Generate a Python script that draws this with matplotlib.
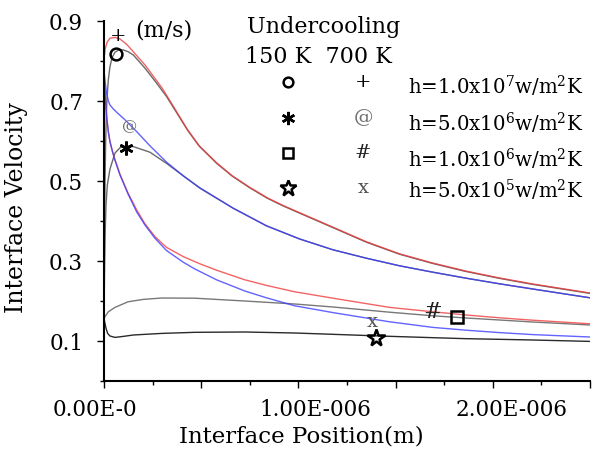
import matplotlib
matplotlib.use('Agg')
import matplotlib.pyplot as plt
import matplotlib.transforms as mtransforms

plt.rcParams['font.family'] = 'DejaVu Serif'
plt.rcParams['mathtext.fontset'] = 'dejavuserif'

# positions in micrometres, velocities in m/s
# 700 K, h=1.0e7  (red)
x_a = [0, 0.007, 0.017, 0.031, 0.057, 0.082, 0.116, 0.151, 0.211, 0.298, 0.34, 0.38, 0.43, 0.49,
       0.58, 0.66, 0.75, 0.84, 0.92, 1.0, 1.18, 1.35, 1.52, 1.69, 1.86, 2.03, 2.2, 2.5]
v_a = [0.807, 0.832, 0.848, 0.857, 0.859, 0.855, 0.842, 0.823, 0.79, 0.733, 0.70, 0.668, 0.628,
       0.588, 0.545, 0.513, 0.484, 0.458, 0.439, 0.422, 0.384, 0.348, 0.318, 0.295, 0.275,
       0.258, 0.243, 0.22]
# 150 K, h=1.0e7  (gray)
x_b = [0, 0.0017, 0.0034, 0.0051, 0.0086, 0.012, 0.0154, 0.0223, 0.0308, 0.0411, 0.0565, 0.0736,
       0.0976, 0.125, 0.151, 0.211, 0.27, 0.322, 0.38, 0.43, 0.49, 0.58, 0.66, 0.75, 0.84, 0.92,
       1.0, 1.18, 1.35, 1.52, 1.69, 1.86, 2.03, 2.2, 2.5]
v_b = [0.155, 0.282, 0.398, 0.498, 0.598, 0.665, 0.707, 0.753, 0.786, 0.808, 0.822, 0.827,
       0.828, 0.823, 0.815, 0.782, 0.745, 0.711, 0.666, 0.627, 0.587, 0.544, 0.512, 0.483,
       0.457, 0.438, 0.421, 0.383, 0.347, 0.317, 0.294, 0.274, 0.257, 0.242, 0.219]
# 700 K, h=5.0e6  (blue)
x_c = [0, 0.0068, 0.0137, 0.0223, 0.0308, 0.0479, 0.0651, 0.1079, 0.1592, 0.2363, 0.3219, 0.4075,
       0.4932, 0.6644, 0.8356, 1.0068, 1.1781, 1.3493, 1.5205, 1.6918, 1.863, 2.0342, 2.2055, 2.5]
v_c = [0.775, 0.744, 0.719, 0.7, 0.69, 0.68, 0.672, 0.653, 0.628, 0.588, 0.547, 0.513,
       0.483, 0.432, 0.388, 0.355, 0.328, 0.307, 0.288, 0.272, 0.257, 0.243, 0.23, 0.208]
# 150 K, h=5.0e6  (gray)
x_d = [0, 0.0017, 0.0034, 0.0051, 0.0103, 0.0171, 0.0308, 0.0565, 0.0822, 0.1164, 0.1507, 0.2363,
       0.3219, 0.4075, 0.4932, 0.6644, 0.8356, 1.0068, 1.1781, 1.3493, 1.5205, 1.6918, 1.863,
       2.0342, 2.2055, 2.5]
v_d = [0.155, 0.232, 0.298, 0.353, 0.44, 0.49, 0.53, 0.57, 0.583, 0.588, 0.586, 0.572,
       0.544, 0.513, 0.482, 0.432, 0.388, 0.355, 0.328, 0.307, 0.288, 0.272, 0.257,
       0.243, 0.23, 0.208]
# 700 K, h=1.0e6  (red)
x_e = [0, 0.0051, 0.0103, 0.0154, 0.0223, 0.0308, 0.0445, 0.0565, 0.0822, 0.1233, 0.1678, 0.2106,
       0.262, 0.3219, 0.4075, 0.4932, 0.5788, 0.7243, 0.8356, 0.9812, 1.1781, 1.4692, 1.6918,
       1.863, 2.0342, 2.2055, 2.5]
v_e = [0.773, 0.723, 0.682, 0.653, 0.623, 0.598, 0.572, 0.553, 0.517, 0.47, 0.428, 0.393,
       0.361, 0.334, 0.311, 0.293, 0.277, 0.253, 0.239, 0.223, 0.207, 0.184, 0.173,
       0.165, 0.158, 0.152, 0.143]
# 700 K, h=5.0e5  (blue)
x_f = [0, 0.0051, 0.0103, 0.0154, 0.0223, 0.0308, 0.0445, 0.0565, 0.0822, 0.1233, 0.1678, 0.2106,
       0.262, 0.3219, 0.4075, 0.4675, 0.5788, 0.7243, 0.8356, 0.9812, 1.1781, 1.4692, 1.6918,
       1.863, 2.0342, 2.2055, 2.5]
v_f = [0.773, 0.723, 0.682, 0.653, 0.623, 0.598, 0.572, 0.552, 0.515, 0.468, 0.423, 0.39,
       0.357, 0.326, 0.297, 0.28, 0.253, 0.225, 0.208, 0.188, 0.171, 0.148, 0.134,
       0.127, 0.121, 0.116, 0.11]
# 150 K, h=1.0e6  (gray)
x_g = [0, 0.0051, 0.0223, 0.0565, 0.1233, 0.202, 0.298, 0.4675, 0.7243, 0.9812, 1.1781, 1.4692,
       1.6918, 1.863, 2.0342, 2.2055, 2.5]
v_g = [0.155, 0.161, 0.173, 0.184, 0.198, 0.204, 0.2075, 0.207, 0.2, 0.1925, 0.185, 0.172,
       0.163, 0.1575, 0.1525, 0.1475, 0.14]
# 150 K, h=5.0e5  (black)
x_h = [0, 0.0051, 0.0103, 0.0188, 0.0308, 0.0565, 0.0993, 0.1507, 0.298, 0.4675, 0.7243, 0.9812,
       1.1781, 1.4692, 1.6918, 1.863, 2.0342, 2.2055, 2.5]
v_h = [0.155, 0.144, 0.132, 0.119, 0.1125, 0.109, 0.1115, 0.115, 0.119, 0.1217, 0.1225, 0.12,
       0.1167, 0.1117, 0.1083, 0.1058, 0.1042, 0.1025, 0.099]

# symbols sitting on the curves
mark_x_150 = [0.062, 0.113, 1.817, 1.397]
mark_v_150 = [0.8175, 0.582, 0.159, 0.108]
mark_x_700 = [0.074, 0.130, 1.692, 1.380]
mark_v_700 = [0.863, 0.636, 0.173, 0.147]
sym_700 = ['+', '@', '#', 'x']
h_labels = ['h=1.0x10$^7$w/m$^2$K', 'h=5.0x10$^6$w/m$^2$K',
            'h=1.0x10$^6$w/m$^2$K', 'h=5.0x10$^5$w/m$^2$K']

xticks = [0, 0.5e-6, 1.0e-6, 1.5e-6, 2.0e-6, 2.5e-6]
xtick_labels = ['0.00E-0', '', '1.00E-006', '', '2.00E-006', '']
yticks = [0.1, 0.3, 0.5, 0.7, 0.9]
ytick_labels = ['0.1', '0.3', '0.5', '0.7', '0.9']

red = '#f03c3c'
blue = '#3c3cff'
gray = '#6a6a6a'
dark = '#2a2a2a'

def m(xs):
    return [x * 1e-6 for x in xs]

fig = plt.figure(figsize=(5.97, 4.59), dpi=100)
ax = fig.add_axes([104 / 597, 78 / 459, 486 / 597, 360 / 459])

# gray curves underneath, coloured ones on top (slightly transparent so merged parts darken)
ax.plot(m(x_b), v_b, color=gray, lw=1.0)
ax.plot(m(x_d), v_d, color=gray, lw=1.0)
ax.plot(m(x_g), v_g, color='#787878', lw=1.0)
ax.plot(m(x_h), v_h, color=dark, lw=1.0)
ax.plot(m(x_a), v_a, color=red, lw=1.0, alpha=0.8)
ax.plot(m(x_c), v_c, color=blue, lw=1.0, alpha=0.8)
ax.plot(m(x_e), v_e, color=red, lw=1.0, alpha=0.8)
ax.plot(m(x_f), v_f, color=blue, lw=1.0, alpha=0.8)

# 150 K symbols
styles_150 = ['o', (6, 2, 0), 's', '*']
sizes_plot = [8.5, 10, 9, 13]
sizes_leg = [7, 9.5, 7, 12]
for i in range(4):
    ax.plot(mark_x_150[i] * 1e-6, mark_v_150[i], marker=styles_150[i], ms=sizes_plot[i],
            mfc='none', mec='black', mew=1.8, ls='none', clip_on=False)

# 700 K symbols (characters)
sym_colors = ['black', '#707070', '#222222', '#555555']
sym_sizes = [14, 11, 16, 14]
for i in range(4):
    ax.text(mark_x_700[i] * 1e-6, mark_v_700[i], sym_700[i], color=sym_colors[i],
            fontsize=sym_sizes[i], ha='center', va='center')

# hand-made legend
ax.text(0.064, 0.958, '(m/s)', transform=ax.transAxes, fontsize=16, va='baseline')
ax.text(0.294, 0.967, 'Undercooling', transform=ax.transAxes, fontsize=16, va='baseline')
ax.text(0.29, 0.883, '150 K  700 K', transform=ax.transAxes, fontsize=16, va='baseline')
row_y = [0.831, 0.731, 0.633, 0.536]
txt_y = [0.795, 0.694, 0.592, 0.506]
for i in range(4):
    ax.plot(0.379, row_y[i], marker=styles_150[i], ms=sizes_leg[i], mfc='none', mec='black',
            mew=1.8, ls='none', transform=ax.transAxes, clip_on=False)
    ax.text(0.533, row_y[i], sym_700[i], color=sym_colors[i], fontsize=14,
            ha='center', va='center', transform=ax.transAxes)
    ax.text(0.626, txt_y[i], h_labels[i], fontsize=14.2, va='baseline', transform=ax.transAxes)

ax.set_xlim(0, 2.5e-6)
ax.set_ylim(0, 0.9)
ax.set_xticks(xticks)
ax.set_xticklabels(xtick_labels)
ax.set_xticks([0.25e-6, 0.75e-6, 1.25e-6, 1.75e-6, 2.25e-6], minor=True)
ax.set_yticks(yticks)
ax.set_yticklabels(ytick_labels)
ax.set_yticks([0.0, 0.2, 0.4, 0.6, 0.8], minor=True)
ax.tick_params(which='major', direction='out', length=5, width=1.0, labelsize=15.5, pad=10)
ax.tick_params(axis='x', which='major', pad=8)
ax.tick_params(which='minor', direction='out', length=3, width=1.0)
for s in ['top', 'right']:
    ax.spines[s].set_visible(False)
for s in ['left', 'bottom']:
    ax.spines[s].set_linewidth(1.5)

shifts = [-6.5, 0, 12.5, 0, 13.5, 0]
for lbl, dx in zip(ax.get_xticklabels(), shifts):
    lbl.set_transform(lbl.get_transform() + mtransforms.ScaledTranslation(dx / 72, 0, fig.dpi_scale_trans))

fig.text(17 / 597, 1 - 208 / 459, 'Interface Velocity', rotation=90, fontsize=17,
         ha='center', va='center')
fig.text(301 / 597, 1 - 436 / 459, 'Interface Position(m)', fontsize=16.5,
         ha='center', va='center')

fig.savefig('out.png', dpi=100)
